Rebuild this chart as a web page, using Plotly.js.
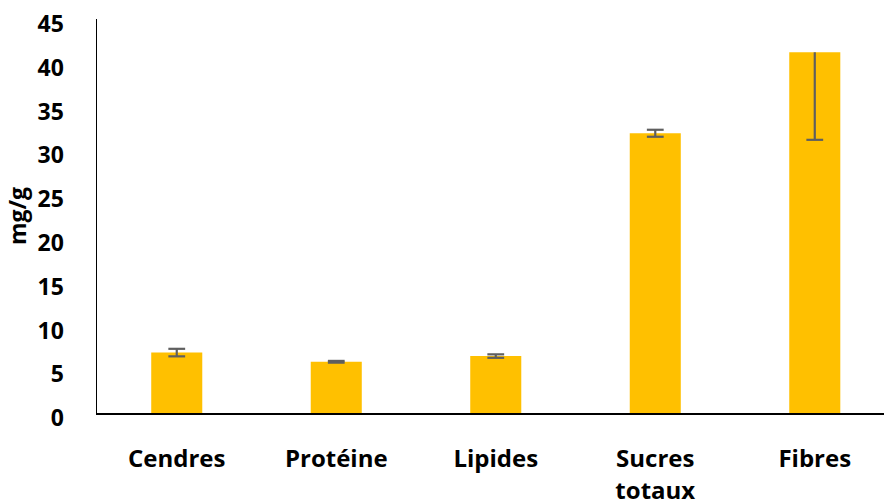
<!DOCTYPE html>
<html>
<head>
<meta charset="utf-8">
<script src="https://cdn.plot.ly/plotly-3.0.1.min.js"></script>
<style>html,body{margin:0;padding:0;background:#fff;overflow:hidden}#chart{width:884px;height:504px}</style>
</head>
<body>
<div id="chart"></div>
<script>
const categories = ["Cendres", "Protéine", "Lipides", "Sucres<br>totaux", "Fibres"];
const values = [6.9, 5.85, 6.5, 31.95, 41.2];
const errPlus = [0.43, 0.1, 0.2, 0.4, 0];
const errMinus = [0.43, 0.1, 0.2, 0.4, 10];
const yTicks = [0, 5, 10, 15, 20, 25, 30, 35, 40, 45];

const FONT = "'Open Sans', 'DejaVu Sans', sans-serif";
const ERR_COLOR = "#5f5f5f";

const bars = {
  type: "bar",
  x: categories,
  y: values,
  marker: {color: "#FFC000"},
  error_y: {
    type: "data",
    symmetric: false,
    array: errPlus,
    arrayminus: errMinus,
    color: ERR_COLOR,
    thickness: 2.2,
    width: 0
  },
  hoverinfo: "none"
};

// caps drawn only where an error half exists
const capX = [], capY = [];
categories.forEach((c, i) => {
  if (errPlus[i] > 0) { capX.push(c); capY.push(values[i] + errPlus[i]); }
  if (errMinus[i] > 0) { capX.push(c); capY.push(values[i] - errMinus[i]); }
});
const caps = {
  type: "scatter",
  mode: "markers",
  x: capX,
  y: capY,
  marker: {symbol: "line-ew", size: 12, color: ERR_COLOR, line: {color: ERR_COLOR, width: 2.2}},
  hoverinfo: "none",
  cliponaxis: true
};

const layout = {
  width: 884,
  height: 504,
  margin: {l: 97, r: 0, t: 19, b: 91},
  paper_bgcolor: "#ffffff",
  plot_bgcolor: "#ffffff",
  bargap: 0.68,
  showlegend: false,
  font: {family: FONT, size: 23, color: "#000000", weight: "bold"},
  xaxis: {
    type: "category",
    range: [-0.5, 4.434],
    showline: true,
    linecolor: "#000000",
    linewidth: 1.5,
    showgrid: false,
    zeroline: false,
    ticks: "",
    ticklabelstandoff: 24,
    tickfont: {family: FONT, size: 24, color: "#000000", weight: "bold"}
  },
  yaxis: {
    range: [0, 45],
    tickvals: yTicks,
    ticktext: yTicks.map(String),
    showline: true,
    linecolor: "#000000",
    linewidth: 1.5,
    showgrid: false,
    zeroline: false,
    ticks: "",
    ticklabelstandoff: 27,
    ticklabelshift: 5,
    ticklabeloverflow: "allow",
    tickfont: {family: FONT, size: 23, color: "#000000", weight: "bold"},
    title: {text: "mg/g", font: {family: FONT, size: 23, color: "#000000", weight: "bold"}, standoff: 4}
  }
};

Plotly.newPlot("chart", [bars, caps], layout, {staticPlot: true, displayModeBar: false});
</script>
</body>
</html>
